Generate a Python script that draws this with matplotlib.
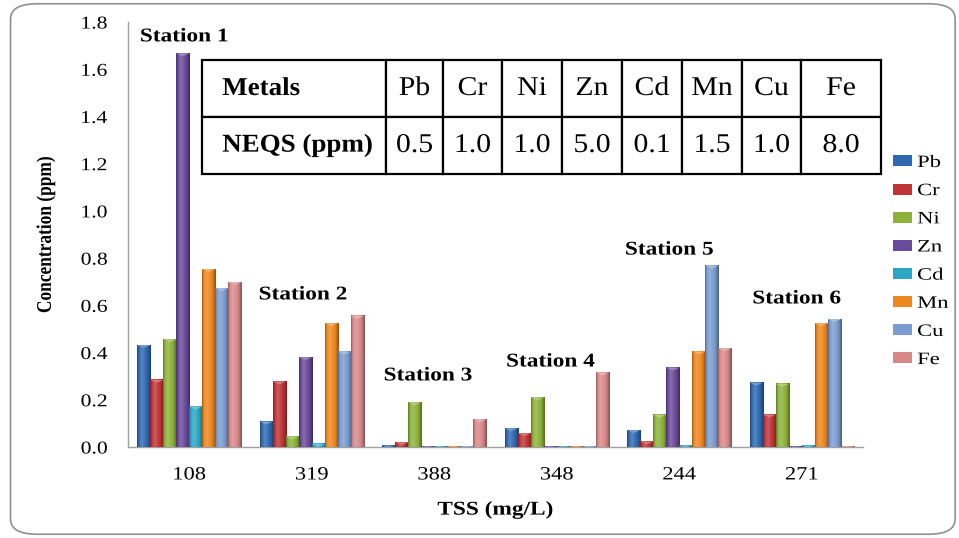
import numpy as np
import matplotlib
matplotlib.use("Agg")
import matplotlib.pyplot as plt
from matplotlib.patches import FancyBboxPatch
from matplotlib.colors import to_rgb
from matplotlib.patheffects import AbstractPathEffect
from matplotlib.transforms import Affine2D

plt.rcParams['font.family'] = ['Liberation Serif', 'DejaVu Serif']

# TSS (mg/L) per station, used as category labels
tss_labels = ["108", "319", "388", "348", "244", "271"]
station_names = ["Station 1", "Station 2", "Station 3", "Station 4", "Station 5", "Station 6"]
station_label_y = [1.737, 0.644, 0.301, 0.360, 0.834, 0.627]

metals = ["Pb", "Cr", "Ni", "Zn", "Cd", "Mn", "Cu", "Fe"]
neqs = ["0.5", "1.0", "1.0", "5.0", "0.1", "1.5", "1.0", "8.0"]

# Concentration (ppm) per metal across the six stations
pb = [0.432, 0.107, 0.005, 0.079, 0.071, 0.272]
cr = [0.284, 0.277, 0.020, 0.058, 0.023, 0.137]
ni = [0.456, 0.044, 0.189, 0.210, 0.136, 0.267]
zn = [1.667, 0.380, 0.004, 0.003, 0.336, 0.002]
cd = [0.171, 0.013, 0.003, 0.003, 0.005, 0.005]
mn = [0.753, 0.524, 0.003, 0.003, 0.404, 0.524]
cu = [0.672, 0.404, 0.003, 0.003, 0.768, 0.542]
fe = [0.698, 0.555, 0.117, 0.315, 0.418, 0.003]
series = [pb, cr, ni, zn, cd, mn, cu, fe]

colors = ["#2E69B0", "#BE3336", "#8CB23A", "#6A4A9A", "#2BA6C4",
          "#EE871E", "#7A9CD0", "#D88888"]


class HStretch(AbstractPathEffect):
    """Widen a text path horizontally about its left, centre or right edge."""

    def __init__(self, sx=1.2, anchor="center"):
        super().__init__()
        self.sx = sx
        self.anchor = anchor

    def draw_path(self, renderer, gc, tpath, affine, rgbFace=None):
        ext = tpath.get_extents(affine)
        if self.anchor == "left":
            cx = ext.x0
        elif self.anchor == "right":
            cx = ext.x1
        else:
            cx = 0.5 * (ext.x0 + ext.x1)
        tr = affine + Affine2D().translate(-cx, 0).scale(self.sx, 1).translate(cx, 0)
        renderer.draw_path(gc, tpath, tr, rgbFace)


fig = plt.figure(figsize=(9.59, 5.38), dpi=100)
fig.patch.set_facecolor("white")

# rounded chart frame
frame = FancyBboxPatch((0.011, 0.007), 0.985, 0.986, transform=fig.transFigure,
                       boxstyle="round,pad=0,rounding_size=0.028",
                       fc="none", ec="#909090", lw=1.2, zorder=-1)
fig.patches.append(frame)

ax = fig.add_axes([128 / 959, (538 - 447) / 538, 735 / 959, 425 / 538])
ax.set_facecolor("none")
ax.set_zorder(2)

n_cat = len(tss_labels)
n_ser = len(series)
x = np.arange(n_cat)
group_w = 0.85
bw = group_w / n_ser


def shade(c, f):
    r = np.array(to_rgb(c))
    if f >= 0:
        return tuple(r + (1 - r) * f)
    return tuple(r * (1 + f))


# horizontal shading profile across a bar
prof = np.linspace(0, 1, 64)
light = np.interp(prof, [0, 0.12, 0.35, 0.75, 1.0], [-0.35, 0.0, 0.2, -0.05, -0.4])

for i, (vals, col) in enumerate(zip(series, colors)):
    offs = x - group_w / 2 + bw * (i + 0.5)
    bars = ax.bar(offs, vals, width=bw, color=col, edgecolor="none",
                  label=metals[i], zorder=2)
    for b in bars:
        x0, w, h = b.get_x(), b.get_width(), b.get_height()
        img = np.array([[shade(col, f) for f in light]])
        ax.imshow(img, extent=(x0, x0 + w, 0, h), aspect="auto",
                  interpolation="bilinear", zorder=3)
        # small pointed top cap
        cap = min(0.012, h)
        ax.fill([x0, x0 + w, x0 + w / 2], [h, h, h - cap],
                color=shade(col, 0.35), zorder=4, lw=0)

label_dx = [-0.04, -0.07, -0.05, -0.05, -0.08, -0.04]
for xi, name, yy, dx in zip(x, station_names, station_label_y, label_dx):
    ax.text(xi + dx, yy, name, ha="center", va="center", fontsize=14,
            fontweight="bold", zorder=5,
            path_effects=[HStretch(1.2, "center")])

ax.set_xlim(-0.5, n_cat - 0.5)
ax.set_ylim(0, 1.8)
yt = np.arange(0, 1.81, 0.2)
ax.set_yticks(yt)
ax.set_yticklabels([f"{v:.1f}" for v in yt])
ax.set_xticks(x)
ax.set_xticklabels(tss_labels)
ax.tick_params(axis="both", length=0)
ax.tick_params(axis="y", pad=15)
ax.tick_params(axis="x", pad=14)
for lab in ax.get_yticklabels():
    lab.set_fontsize(13)
    lab.set_path_effects([HStretch(1.2, "right")])
for lab in ax.get_xticklabels():
    lab.set_fontsize(13.5)
    lab.set_path_effects([HStretch(1.2, "center")])
for s in ["top", "right"]:
    ax.spines[s].set_visible(False)
for s in ["left", "bottom"]:
    ax.spines[s].set_color("#a0a0a0")
    ax.spines[s].set_linewidth(1.0)

ax.set_xlabel("TSS (mg/L)", fontsize=14, fontweight="bold", va="center",
              path_effects=[HStretch(1.2, "center")])
ax.xaxis.set_label_coords(0.5, (447 - 510) / 425)
ax.set_ylabel("Concentration (ppm)", fontsize=12.5, fontweight="bold", va="center",
              path_effects=[HStretch(1.2, "center")])
ax.yaxis.set_label_coords((46 - 128) / 735, 0.5)

# standards table
cell_text = [["Metals"] + metals, ["NEQS (ppm)"] + neqs]
col_px = [184, 57, 59, 60, 60, 60, 60, 59, 80]
tot = sum(col_px)
tbl = ax.table(cellText=cell_text, cellLoc="center",
               colWidths=[c / tot for c in col_px],
               bbox=[(202 - 128) / 735, (447 - 174) / 425, 679 / 735, 114 / 425])
tbl.auto_set_font_size(False)
for (r, c), cell in tbl.get_celld().items():
    cell.set_edgecolor("black")
    cell.set_linewidth(1.6)
    cell.set_facecolor("white")
    t = cell.get_text()
    t.set_fontsize(19.5)
    if c == 0:
        t.set_fontweight("bold")
        t.set_fontsize(18.5)
        cell._loc = "left"
        cell.PAD = 0.11
        t.set_horizontalalignment("left")
        t.set_path_effects([HStretch(1.05, "left")])
    else:
        t.set_path_effects([HStretch(1.1, "center")])
tbl.set_zorder(6)

leg = ax.legend(loc="upper left", bbox_to_anchor=(893 / 959, (538 - 155) / 538),
                bbox_transform=fig.transFigure, frameon=False, fontsize=12.5,
                handlelength=1.1, handleheight=0.6, handletextpad=0.3,
                labelspacing=0.7, borderaxespad=0, borderpad=0)
for t in leg.get_texts():
    t.set_path_effects([HStretch(1.3, "left")])

fig.savefig("out.png", dpi=100)
